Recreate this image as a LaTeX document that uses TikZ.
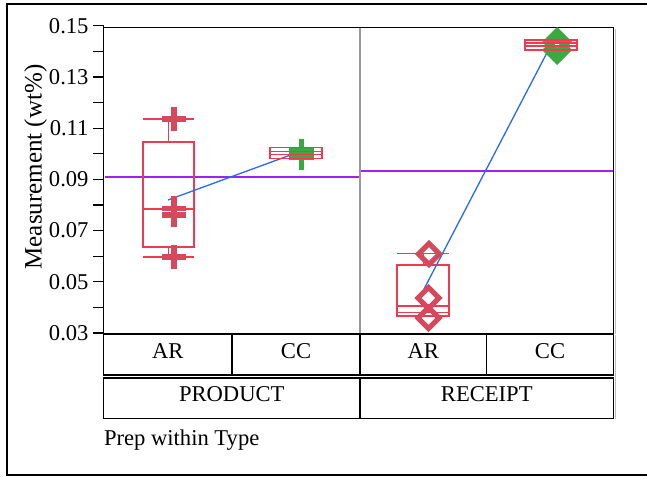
\documentclass[tikz,border=0pt]{standalone}
\usepackage{fontspec}
\setmainfont{Liberation Serif}
\usetikzlibrary{shapes.geometric,shapes.misc}
\definecolor{boxred}{RGB}{238,58,82}
\definecolor{markred}{RGB}{214,72,92}
\definecolor{markgreen}{RGB}{58,170,62}
\definecolor{meanblue}{RGB}{40,105,250}
\definecolor{gmpurple}{RGB}{160,32,240}
\definecolor{shadowgray}{RGB}{190,190,190}
\begin{document}
\begin{tikzpicture}[x=1pt,y=-1pt,
  every node/.style={inner sep=0pt, outer sep=0pt},
  lbl/.style={font=\fontsize{22.6}{26}\selectfont},
  framed/.style={draw=black, line width=1.4pt},
  boxline/.style={draw=boxred, line width=1.2pt},
  plusred/.style={cross out, draw=markred, rotate=45, line width=5.5pt, minimum size=17pt},
  plusgreen/.style={cross out, draw=markgreen, rotate=45, line width=5.5pt, minimum size=17pt},
  diamred/.style={diamond, draw=markred, line width=5pt, minimum size=21pt, aspect=1},
  diamgreen/.style={diamond, fill=markgreen, minimum size=30pt, aspect=1},
  meanline/.style={draw=meanblue, line width=1.3pt},
  gmline/.style={draw=gmpurple, line width=1.4pt},
  cell/.style={draw=black, line width=1.2pt, lbl, text height=15pt, text depth=8pt},
  tick/.style={draw=black, line width=1.3pt}]
\useasboundingbox (0,0) rectangle (647,476);

% outer frame (open on the right, where it runs past the page edge)
\draw[framed] (647,4.2) -- (7,4.2) -- (7,475) -- (647,475);

% plot area
\draw[shadowgray, line width=1.2pt] (615.3,29) -- (615.3,334);
\draw[framed] (103.5,27.7) rectangle (613.5,334);
\draw[draw=gray!80, line width=1.2pt] (360,28.4) -- (360,333.3);
\draw[tick] (103.5,25.8) -- (103.5,27.7);

% y axis ticks and labels
\foreach \v/\t in {0.03/0.03,0.05/0.05,0.07/0.07,0.09/0.09,0.11/0.11,0.13/0.13,0.15/0.15}{
  \pgfmathsetmacro{\yy}{333-(\v-0.03)*2560}
  \draw[tick] (93,\yy) -- (103.5,\yy);
  \node[lbl, anchor=east] (tl\t) at (88.5,\yy) {\t};
}
\foreach \v in {0.04,0.06,0.08,0.10,0.12,0.14}{
  \pgfmathsetmacro{\yy}{333-(\v-0.03)*2560}
  \draw[tick] (93,\yy) -- (103.5,\yy);
}
\node[rotate=90, font=\fontsize{25}{28}\selectfont] (ytitle) at (35.5,167) {Measurement (wt\%)};

% group means of each type
\draw[gmline] (104.5,177) -- (359.3,177);
\draw[gmline] (360.7,171) -- (612.8,171);

% PRODUCT / AR
\draw[boxline] (143,119) -- (194,119);
\draw[boxline] (168.5,119) -- (168.5,142);
\draw[boxline] (143,142) rectangle (194,247);
\draw[boxline] (143,209) -- (194,209);
\draw[boxline] (168.5,247) -- (168.5,257);
\draw[boxline] (143,257) -- (194,257);
\coordinate (mPA) at (168,200);
\coordinate (mPC) at (296,153);
\draw[meanline] (mPA) -- (mPC);
\node[plusred] (p1) at (174,119) {};
\node[plusred] (p2) at (174,208.5) {};
\node[plusred] (p3) at (174,215) {};
\node[plusred] (p4) at (174,257) {};

% PRODUCT / CC
\node[plusgreen] (g1) at (301.5,151) {};
\node[plusgreen] (g2) at (301.5,157.5) {};
\draw[boxline] (270,147.5) rectangle (322,158.5);
\draw[boxline] (270,151.5) -- (322,151.5);
\draw[boxline] (270,154.5) -- (322,154.5);

% RECEIPT / AR
\draw[boxline] (397,253.5) -- (449,253.5);
\draw[boxline] (423.5,253.5) -- (423.5,265);
\draw[boxline] (397,265) rectangle (449,316);
\draw[boxline] (397,306) -- (449,306);
\draw[boxline] (397,312.5) -- (449,312.5);
\coordinate (mRA) at (423.5,290);
\coordinate (mRC) at (551,45);
\draw[meanline] (mRA) -- (mRC);
\node[diamred] (d1) at (429,254) {};
\node[diamred] (d2) at (428.5,298) {};
\node[diamred] (d3) at (428.5,318) {};

% RECEIPT / CC
\node[diamgreen] (e1) at (557,42) {};
\node[diamgreen] (e2) at (557,50) {};
\node[diamond, fill=white, minimum size=5pt, aspect=1] (e0) at (557,45) {};
\draw[boxline] (525,40) rectangle (577,50);
\draw[boxline] (525,43) -- (577,43);
\draw[boxline] (525,46) -- (577,46);

% category table
\draw[shadowgray, line width=1.2pt] (615.3,335) -- (615.3,419);
\node[cell, minimum width=128.5pt, minimum height=41pt] (cPA) at (167.75,354.5) {AR};
\node[cell, minimum width=128pt, minimum height=41pt] (cPC) at (296,354.5) {CC};
\node[cell, minimum width=126.5pt, minimum height=41pt] (cRA) at (423.25,354.5) {AR};
\node[cell, minimum width=127pt, minimum height=41pt] (cRC) at (550,354.5) {CC};
\node[cell, minimum width=256.5pt, minimum height=40.5pt] (cP) at (231.75,398.2) {PRODUCT};
\node[cell, minimum width=253.5pt, minimum height=40.5pt] (cR) at (486.75,398.2) {RECEIPT};

\node[lbl, anchor=base west] (xtitle) at (104,445) {Prep within Type};
\end{tikzpicture}
\end{document}
